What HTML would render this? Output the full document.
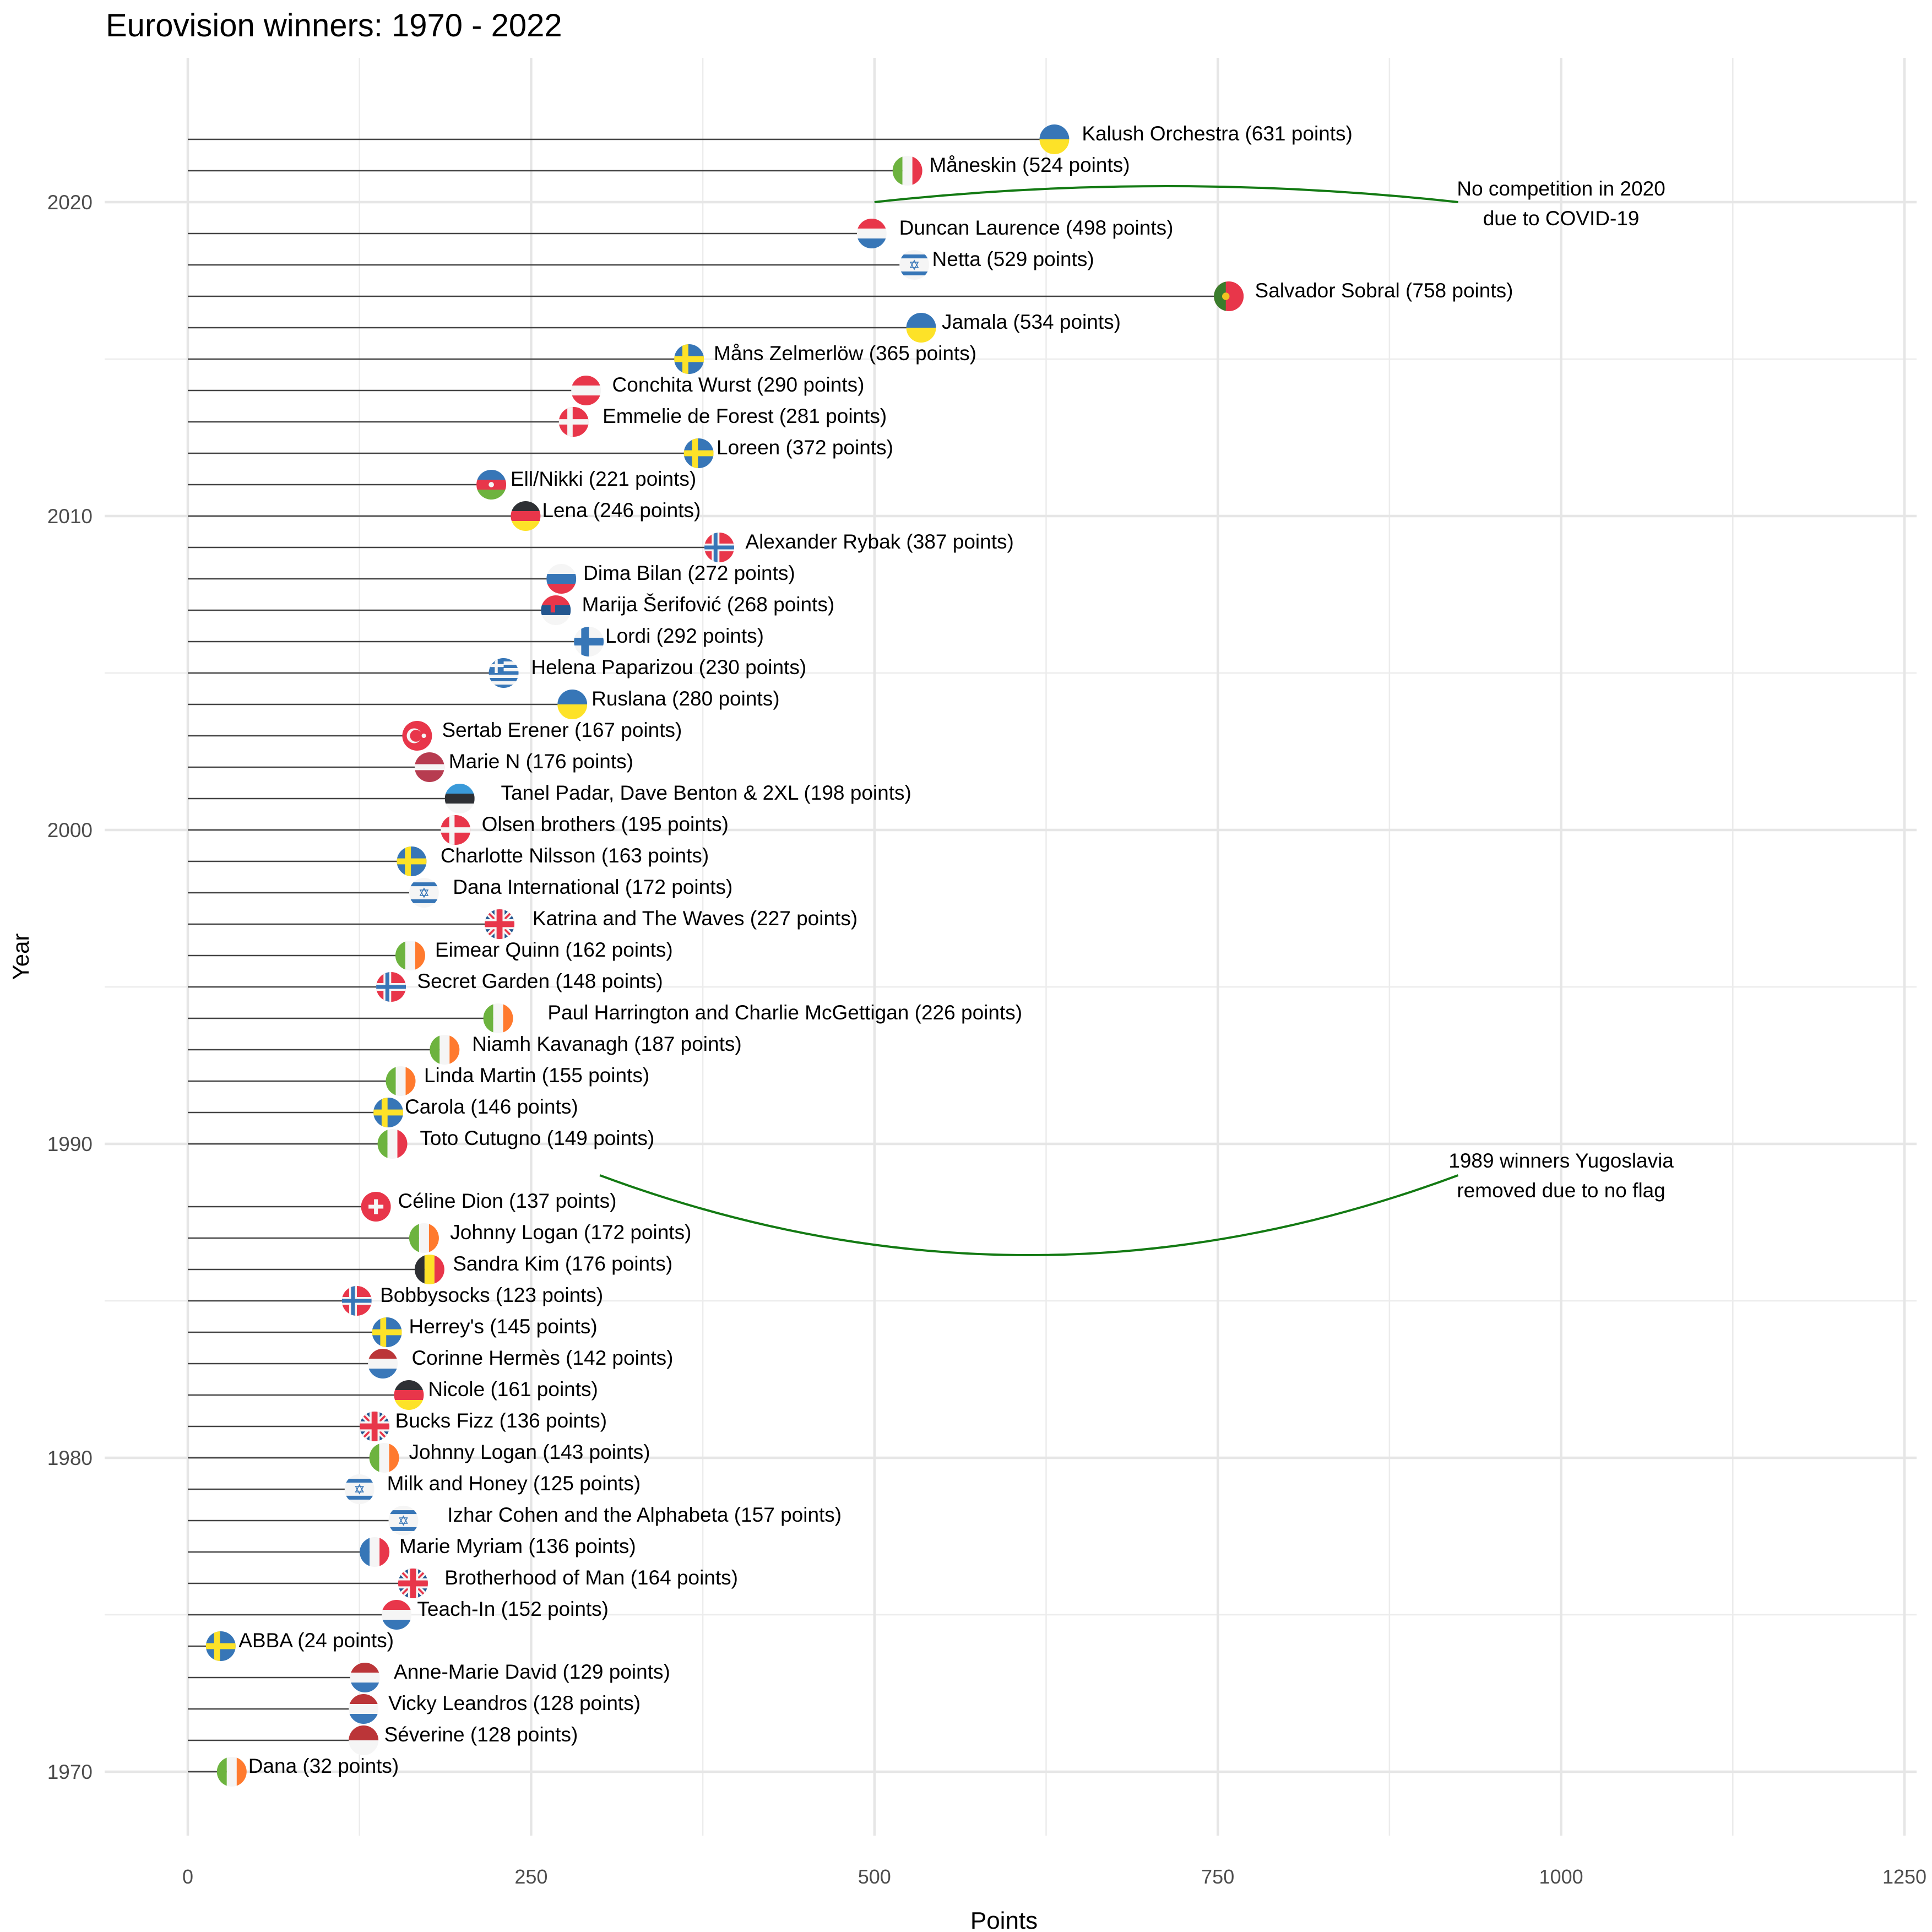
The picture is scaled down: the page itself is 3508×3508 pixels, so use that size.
<!DOCTYPE html>
<html><head><meta charset="utf-8">
<style>
html,body{margin:0;padding:0;background:#fff;}
svg{display:block;font-family:"Liberation Sans",sans-serif;}
</style></head>
<body>
<svg id="chart" width="3508" height="3508" viewBox="0 0 3508 3508" xmlns="http://www.w3.org/2000/svg">
<text x="192" y="66" font-size="58" fill="#000">Eurovision winners: 1970 - 2022</text>
<g id="grid"></g>
<g id="marks"></g>
<g id="annot"></g>
<text transform="translate(52,1737) rotate(-90)" font-size="42" text-anchor="middle" fill="#000">Year</text>
<text x="1823" y="3502" font-size="44" text-anchor="middle" fill="#000">Points</text>
</svg>
<script>
const years=[2022,2021,2019,2018,2017,2016,2015,2014,2013,2012,2011,2010,2009,2008,2007,2006,2005,2004,2003,2002,2001,2000,1999,1998,1997,1996,1995,1994,1993,1992,1991,1990,1988,1987,1986,1985,1984,1983,1982,1981,1980,1979,1978,1977,1976,1975,1974,1973,1972,1971,1970];
const artists=["Kalush Orchestra","Måneskin","Duncan Laurence","Netta","Salvador Sobral","Jamala","Måns Zelmerlöw","Conchita Wurst","Emmelie de Forest","Loreen","Ell/Nikki","Lena","Alexander Rybak","Dima Bilan","Marija Šerifović","Lordi","Helena Paparizou","Ruslana","Sertab Erener","Marie N","Tanel Padar, Dave Benton & 2XL","Olsen brothers","Charlotte Nilsson","Dana International","Katrina and The Waves","Eimear Quinn","Secret Garden","Paul Harrington and Charlie McGettigan","Niamh Kavanagh","Linda Martin","Carola","Toto Cutugno","Céline Dion","Johnny Logan","Sandra Kim","Bobbysocks","Herrey's","Corinne Hermès","Nicole","Bucks Fizz","Johnny Logan","Milk and Honey","Izhar Cohen and the Alphabeta","Marie Myriam","Brotherhood of Man","Teach-In","ABBA","Anne-Marie David","Vicky Leandros","Séverine","Dana"];
const points=[631,524,498,529,758,534,365,290,281,372,221,246,387,272,268,292,230,280,167,176,198,195,163,172,227,162,148,226,187,155,146,149,137,172,176,123,145,142,161,136,143,125,157,136,164,152,24,129,128,128,32];
const flags=["UA","IT","NL","IL","PT","UA","SE","AT","DK","SE","AZ","DE","NO","RU","RS","FI","GR","UA","TR","LV","EE","DK","SE","IL","UK","IE","NO","IE","IE","IE","SE","IT","CH","IE","BE","NO","SE","LU","DE","UK","IE","IL","IL","FR","UK","NL","SE","LU","LU","MC","IE"];
// label start, in points units (ggrepel placement)
const labelAt=[651,540,518,542,777,549,383,309,302,385,235,258,406,288,287,304,250,294,185,190,228,214,184,193,251,180,167,262,207,172,158,169,153,191,193,140,161,163,175,151,161,145,189,154,187,167,37,150,146,143,44];
const xTicks=[0,250,500,750,1000,1250];
const yTicks=[1970,1980,1990,2000,2010,2020];

const NS="http://www.w3.org/2000/svg";
const X=p=>341+p*2.4936;
const Y=yr=>367+(2020-yr)*57.0;
const PL=190,PR=3480,PT=105,PB=3333;
function mk(tag,attrs,parent){const e=document.createElementNS(NS,tag);for(const k in attrs)e.setAttribute(k,attrs[k]);parent.appendChild(e);return e;}
const grid=document.getElementById('grid'),marks=document.getElementById('marks'),annot=document.getElementById('annot');
for(let p=125;p<1300;p+=250){const l=mk('line',{x1:X(p),x2:X(p),y1:PT,y2:PB,stroke:'#ececec','stroke-width':2.5},grid);

}
for(let y=1975;y<=2020;y+=10){const l=mk('line',{x1:PL,x2:PR,y1:Y(y),y2:Y(y),stroke:'#ececec','stroke-width':2.5},grid);

}
xTicks.forEach(t=>{const l=mk('line',{x1:X(t),x2:X(t),y1:PT,y2:PB,stroke:'#e6e6e6','stroke-width':4.5},grid);


const tx=mk('text',{x:X(t),y:3420,'font-size':36,'text-anchor':'middle',fill:'#4d4d4d'},grid);tx.textContent=t;

});
yTicks.forEach(t=>{const l=mk('line',{x1:PL,x2:PR,y1:Y(t),y2:Y(t),stroke:'#e6e6e6','stroke-width':4.5},grid);


const tx=mk('text',{x:168,y:Y(t)+13,'font-size':37,'text-anchor':'end',fill:'#4d4d4d'},grid);tx.textContent=t;

});

const C={blue:'#3776b7',red:'#e8364a',yel:'#fde228',wh:'#f5f5f5',grn:'#6db33f',org:'#ff7a2e',blk:'#2e3034',dred:'#bb3538',lblue:'#3a78b9',eeb:'#3a9ad9',lv:'#b73c50',nav:'#23568f'};
function rect(g,x,y,w,h,f){mk('rect',{x:x,y:y,width:w,height:h,fill:f},g);}
function drawFlag(code,cx,cy,r,idx){
  const id='clip'+idx;
  const cp=mk('clipPath',{id:id},marks);mk('circle',{cx:cx,cy:cy,r:r},cp);
  const g=mk('g',{'clip-path':'url(#'+id+')'},marks);
  
  
  const x=cx-r,y=cy-r,d=2*r,t=d/3;
  const H=(a,b,c)=>{rect(g,x,y,d,t,a);rect(g,x,y+t,d,t,b);rect(g,x,y+2*t,d,t+1,c);};
  const V=(a,b,c)=>{rect(g,x,y,t,d,a);rect(g,x+t,y,t,d,b);rect(g,x+2*t,y,t+1,d,c);};
  const cross=(bg,c1,w1,c2,w2)=>{rect(g,x,y,d,d,bg);const vx=cx-r*0.25;
    rect(g,vx-w1/2,y,w1,d,c1);rect(g,x,cy-w1/2,d,w1,c1);
    if(c2){rect(g,vx-w2/2,y,w2,d,c2);rect(g,x,cy-w2/2,d,w2,c2);}};
  switch(code){
    case 'UA':rect(g,x,y,d,r,C.blue);rect(g,x,cy,d,r,C.yel);break;
    case 'IT':V(C.grn,C.wh,C.red);break;
    case 'IE':V(C.grn,C.wh,C.org);break;
    case 'FR':V(C.blue,C.wh,C.red);break;
    case 'BE':V(C.blk,C.yel,C.red);break;
    case 'NL':H(C.red,C.wh,C.blue);break;
    case 'LU':H(C.dred,C.wh,C.lblue);break;
    case 'DE':H(C.blk,C.red,C.yel);break;
    case 'RU':H(C.wh,C.blue,C.red);break;
    case 'RS':H(C.red,C.nav,C.wh);rect(g,cx-r*0.35,cy-r*0.45,r*0.3,r*0.6,C.red);break;
    case 'AZ':H(C.blue,C.red,C.grn);mk('circle',{cx:cx,cy:cy,r:r*0.18,fill:C.wh},g);break;
    case 'EE':H(C.eeb,C.blk,C.wh);break;
    case 'AT':H(C.red,C.wh,C.red);break;
    case 'LV':rect(g,x,y,d,d,C.lv);rect(g,x,cy-d*0.1,d,d*0.2,C.wh);break;
    case 'MC':rect(g,x,y,d,r,C.dred);rect(g,x,cy,d,r,C.wh);break;
    case 'PT':rect(g,x,y,d,d,C.red);rect(g,x,y,d*0.4,d,'#3a7d2c');mk('circle',{cx:x+d*0.4,cy:cy,r:r*0.25,fill:'#f0c420'},g);break;
    case 'IL':rect(g,x,y,d,d,C.wh);rect(g,x,y+d*0.15,d,d*0.13,C.blue);rect(g,x,y+d*0.72,d,d*0.13,C.blue);
      mk('polygon',{points:`${cx},${cy-8} ${cx+7},${cy+5} ${cx-7},${cy+5}`,fill:'none',stroke:C.blue,'stroke-width':1.5},g);
      mk('polygon',{points:`${cx},${cy+8} ${cx+7},${cy-5} ${cx-7},${cy-5}`,fill:'none',stroke:C.blue,'stroke-width':1.5},g);break;
    case 'SE':cross(C.blue,C.yel,d*0.2);break;
    case 'DK':cross(C.red,C.wh,d*0.18);break;
    case 'CH':rect(g,x,y,d,d,C.red);rect(g,cx-r*0.13,cy-r*0.5,r*0.26,r,C.wh);rect(g,cx-r*0.5,cy-r*0.13,r,r*0.26,C.wh);break;
    case 'NO':cross(C.red,C.wh,d*0.26,C.blue,d*0.13);break;
    case 'FI':cross(C.wh,C.blue,d*0.26);break;
    case 'GR':for(let i=0;i<9;i++)rect(g,x,y+i*d/9,d,d/9+0.5,i%2?C.wh:C.blue);rect(g,x,y,r,r*5/9*1.8,C.blue);
      rect(g,x,y+r*0.4,r,r*0.2,C.wh);rect(g,x+r*0.4,y,r*0.2,r,C.wh);break;
    case 'TR':rect(g,x,y,d,d,C.red);mk('circle',{cx:cx-r*0.2,cy:cy,r:r*0.5,fill:C.wh},g);mk('circle',{cx:cx-r*0.08,cy:cy,r:r*0.4,fill:C.red},g);
      mk('circle',{cx:cx+r*0.45,cy:cy,r:r*0.15,fill:C.wh},g);break;
    case 'UK':rect(g,x,y,d,d,C.nav);
      mk('line',{x1:x,y1:y,x2:x+d,y2:y+d,stroke:C.wh,'stroke-width':d*0.2},g);mk('line',{x1:x+d,y1:y,x2:x,y2:y+d,stroke:C.wh,'stroke-width':d*0.2},g);
      mk('line',{x1:x,y1:y,x2:x+d,y2:y+d,stroke:C.red,'stroke-width':d*0.07},g);mk('line',{x1:x+d,y1:y,x2:x,y2:y+d,stroke:C.red,'stroke-width':d*0.07},g);
      rect(g,cx-d*0.17,y,d*0.34,d,C.wh);rect(g,x,cy-d*0.17,d,d*0.34,C.wh);
      rect(g,cx-d*0.1,y,d*0.2,d,C.red);rect(g,x,cy-d*0.1,d,d*0.2,C.red);break;
  }
}
years.forEach((yr,i)=>{
  const y=Y(yr),px=X(points[i]);
  const seg=mk('line',{x1:X(0),x2:px,y1:y,y2:y,stroke:'#444','stroke-width':2.6},marks);
  
  
  drawFlag(flags[i],px,y,27,i);
  const t=mk('text',{x:X(labelAt[i]),y:y+2,'font-size':37,fill:'#000'},marks);
  t.textContent=artists[i]+' ('+points[i]+' points)';
  
  
});
function curve(x1,y1,x2,y2,bend){
  const mx=(X(x1)+X(x2))/2,my=(Y(y1)+Y(y2))/2;
  return mk('path',{d:`M${X(x1)},${Y(y1)} Q${mx},${my+bend} ${X(x2)},${Y(y2)}`,fill:'none',stroke:'#137a13','stroke-width':4},annot);
}
const c1=curve(500,2020,925,2020,-58);


const c2=curve(300,1989,925,1989,290);


function note(lines,x,y,name){const t=mk('text',{x:X(x),y:y,'font-size':37,'text-anchor':'middle',fill:'#000'},annot);
  
  
  lines.forEach((s,k)=>{const ts=mk('tspan',{x:X(x),dy:k?54:0},t);ts.textContent=s;});}
note(['No competition in 2020','due to COVID-19'],1000,355,'covid-note');
note(['1989 winners Yugoslavia','removed due to no flag'],1000,2120,'yugoslavia-note');
</script>
</body></html>
